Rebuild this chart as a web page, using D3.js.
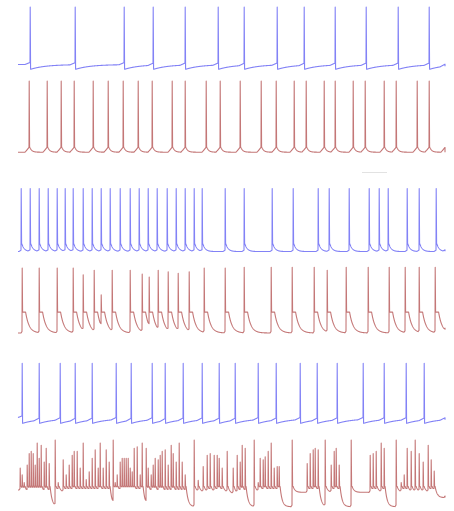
<!DOCTYPE html>
<html>
<head>
<meta charset="utf-8">
<script src="https://cdn.jsdelivr.net/npm/d3@7"></script>
<style>
  body { margin: 0; background: #fff; }
  svg { display: block; }
</style>
</head>
<body>
<svg id="chart" width="454" height="511"></svg>
<script>
// spike times (s), one array per trace
var spikes1 = [0.12, 0.57, 1.06, 1.35, 1.67, 2.00, 2.26, 2.59, 2.86, 3.17, 3.48, 3.80, 4.11]
var spikes2 = [0.11, 0.29, 0.43, 0.56, 0.75, 0.90, 1.05, 1.20, 1.34, 1.54, 1.67, 1.88, 2.02,
               2.22, 2.43, 2.58, 2.76, 2.88, 3.06, 3.17, 3.35, 3.47, 3.66, 3.78, 3.99, 4.11]
var spikes3 = [0.03, 0.12, 0.21, 0.30, 0.39, 0.47, 0.55, 0.65, 0.74, 0.83, 0.92, 1.02, 1.12,
               1.21, 1.30, 1.39, 1.49, 1.58, 1.67, 1.76, 1.84, 2.07, 2.26, 2.54, 2.75, 3.00,
               3.11, 3.31, 3.51, 3.61, 3.70, 3.89, 4.01, 4.18]
var spikes4 = [0.04, 0.21, 0.39, 0.55, 0.65, 0.76, 0.83, 0.94, 1.12, 1.24, 1.31, 1.40, 1.50,
               1.60, 1.71, 1.86, 2.07, 2.26, 2.53, 2.74, 2.96, 3.09, 3.28, 3.50, 3.71, 3.87,
               4.01, 4.17]
var peaks4  = [21, 21, 21, 21, 12, 18, -15, 18, 18, 13, 9, 18, 16, 14, 16, 21, 21, 22, 22, 22,
               22, 18, 22, 22, 22, 22, 22, 22]
var spikes5 = [0.04, 0.21, 0.42, 0.57, 0.74, 0.98, 1.13, 1.34, 1.47, 1.65, 1.84, 2.01, 2.17,
               2.40, 2.58, 2.82, 2.99, 3.19, 3.45, 3.66, 3.88, 4.06]

// bottom trace: bursts; value the trace relaxes to after each spike (mV)
var spikes6 = [0.02, 0.04, 0.06, 0.09, 0.11, 0.13, 0.15, 0.17, 0.19, 0.21, 0.23, 0.26, 0.28, 0.31,
               0.37, 0.40, 0.45, 0.48, 0.51, 0.54, 0.56, 0.59, 0.62, 0.65, 0.68, 0.71, 0.74, 0.77,
               0.80, 0.82, 0.85, 0.88, 0.91,
               0.95, 0.97, 0.99, 1.02, 1.04, 1.06, 1.08, 1.10, 1.12, 1.14, 1.16, 1.19, 1.22, 1.24,
               1.28, 1.30, 1.33, 1.35, 1.37, 1.40, 1.42, 1.44, 1.47, 1.50, 1.53, 1.55, 1.58, 1.61,
               1.64, 1.67,
               1.76, 1.80, 1.85, 1.89, 1.92, 1.96, 1.99, 2.01, 2.04, 2.09, 2.15, 2.19, 2.22, 2.24, 2.27,
               2.36, 2.40, 2.42, 2.45, 2.47, 2.50, 2.53, 2.56, 2.59, 2.61,
               2.74, 2.89, 2.92, 2.95, 2.97, 3.00,
               3.07, 3.13, 3.16, 3.18, 3.21,
               3.33, 3.52, 3.55, 3.58, 3.63, 3.66,
               3.78, 3.83, 3.86, 3.89, 3.93, 3.97, 4.01, 4.05, 4.10, 4.13, 4.16]
var peaks6  = [-16, -25, -36, -12, 3, 6, 3, -12, 17, -3, 14, -8, 10, -10,
               21, -40, -5, -25, -12, 1, 6, 6, -16, 17, -31, -21, -3, 8, -16, 17, -16, 8, -8,
               21, -38, -25, -8, -3, -3, -3, -3, -16, -21, 10, 12, -25, 17,
               10, -16, -25, -12, -3, -5, 1, 6, 8, -12, 14, 3, -8, 17, -8, -25,
               21, -32, -14, 1, 3, 1, 1, -3, -16, 6, -16, 1, -8, 14, 10,
               21, -36, -3, -5, -1, 6, 17, -16, -14, -14,
               21, -10, 3, 8, 10, 8,
               21, -12, 6, 10, -12,
               21, 1, 3, 6, 17, 10,
               21, -40, -25, 10, 6, 21, 3, -8, 14, -5, -20]
var after6  = [-50, -50, -50, -50, -50, -50, -50, -50, -50, -50, -50, -50, -50, -67,
               -48, -48, -48, -48, -48, -48, -48, -48, -48, -48, -48, -48, -48, -48, -48, -48, -48, -48, -67,
               -48, -48, -48, -48, -48, -48, -48, -48, -48, -48, -48, -48, -48, -67,
               -50, -50, -50, -50, -50, -50, -50, -50, -50, -50, -50, -50, -50, -50, -50, -67,
               -48, -48, -48, -48, -48, -48, -48, -48, -48, -50, -50, -50, -50, -50, -67,
               -48, -48, -48, -48, -48, -48, -48, -48, -48, -67,
               -48, -48, -48, -48, -48, -67,
               -48, -48, -48, -48, -67,
               -48, -48, -48, -48, -48, -67,
               -48, -48, -48, -48, -48, -48, -48, -48, -48, -48, -55]

var tEnd = 4.27
var svg = d3.select('#chart')
var x = d3.scaleLinear().domain([0, tEnd]).range([18, 445])

var blue = '#8282f6', red = '#c47777'

var traces = [
    {spikes: spikes1, peak: 22, start: -62, after: -69, rest: -62, tau: 0.15, hold: 0, pre: 0.05, rise: 3,
     top: 5, bottom: 70, color: blue},
    {spikes: spikes2, peak: 21, start: -69, after: -62, rest: -69, tau: 0.02, hold: 0, pre: 0.04, rise: 6,
     top: 78, bottom: 153, color: red},
    {spikes: spikes3, peak: 20, start: -68, after: -56, rest: -68, tau: 0.025, hold: 0, pre: 0.02, rise: 2,
     top: 185, bottom: 253, color: blue},
    {spikes: spikes4, peaks: peaks4, start: -66, after: -38, rest: -66, tau: 0.035, hold: 0.03, pre: 0.01, rise: 2,
     top: 265, bottom: 336, color: red},
    {spikes: spikes5, peak: 20, start: -61, after: -69, rest: -62, tau: 0.15, hold: 0, pre: 0.05, rise: 3,
     top: 360, bottom: 424, color: blue},
    {spikes: spikes6, peaks: peaks6, afters: after6, start: -45, after: -40, rest: -48, tau: 0.02, hold: 0.005,
     pre: 0.01, rise: 2, top: 437, bottom: 509, color: red}
]

function build(tr){
    var dt = 0.002, pts = [], prev = null
    var times = tr.spikes.concat([tEnd])
    var t = 0
    times.forEach(function(tn, i){
        for(; t < tn; t += dt){
            pts.push([t, level(t, prev, tn, tr)])
        }
        if(i < tr.spikes.length){
            var pk = tr.peaks ? tr.peaks[i] : tr.peak
            var rest = tr.afters ? tr.afters[i] : tr.rest
            var aft = tr.afters ? Math.max(rest + 8, tr.after) : tr.after
            if(pk < aft + 5) pk = aft + 5
            pts.push([tn, level(tn, prev, tn, tr)])
            pts.push([tn + 0.002, pk])
            pts.push([tn + 0.006, aft])
            prev = {t: tn + 0.006, after: aft, rest: rest}
            t = tn + 0.006 + dt
        }
    })
    pts.push([tEnd, level(tEnd, prev, tEnd + 1, tr)])
    return pts
}

function level(t, prev, tn, tr){
    var v
    if(!prev) v = tr.start
    else {
        var u = t - prev.t
        if(u < tr.hold) v = prev.after
        else v = prev.rest + (prev.after - prev.rest)*Math.exp(-(u - tr.hold)/tr.tau)
    }
    var left = tn - t
    if(left < tr.pre) v += tr.rise*(1 - left/tr.pre)
    return v
}

traces.forEach(function(tr){
    var y = d3.scaleLinear().domain([-70, 25]).range([tr.bottom, tr.top])
    var line = d3.line()
        .x(function(d){ return x(d[0]) })
        .y(function(d){ return y(d[1]) })
    svg.append('path')
        .datum(build(tr))
        .attr('d', line)
        .attr('fill', 'none')
        .attr('stroke', tr.color)
        .attr('stroke-width', 1.1)
        .attr('stroke-linejoin', 'round')
})

// faint scale mark between the first and second pair
svg.append('line')
    .attr('x1', 362).attr('x2', 387)
    .attr('y1', 172.5).attr('y2', 172.5)
    .attr('stroke', '#e2e2e2')
    .attr('stroke-width', 1)
</script>
</body>
</html>
